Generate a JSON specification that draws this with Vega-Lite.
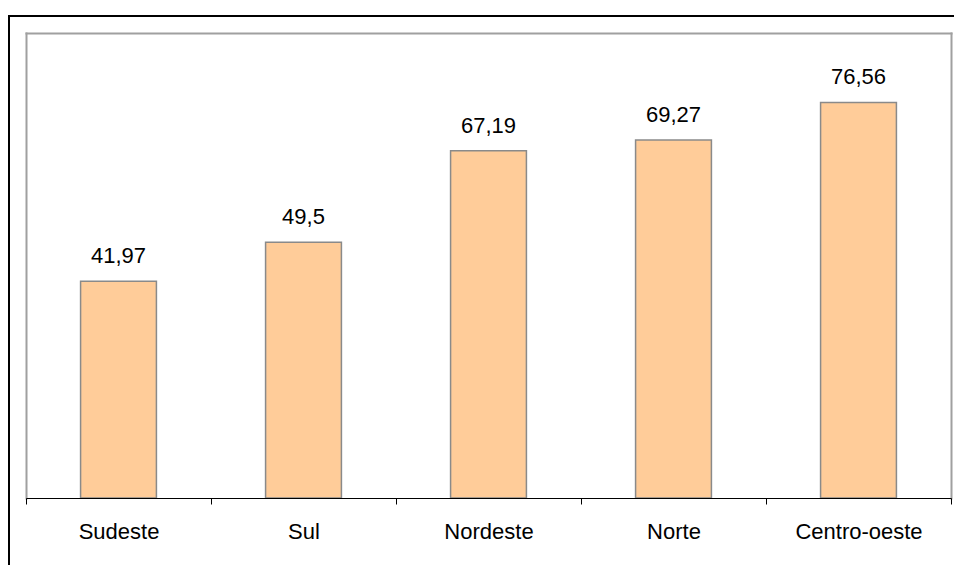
{
  "$schema": "https://vega.github.io/schema/vega-lite/v6.json",
  "width": 946,
  "height": 550,
  "autosize": {"type": "none"},
  "padding": {"left": 9, "top": 16, "right": 0, "bottom": 0},
  "background": "white",
  "config": {
    "view": {"stroke": "black", "strokeWidth": 2},
    "font": "Liberation Sans",
    "locale": {
      "number": {"decimal": ",", "thousands": ".", "grouping": [3], "currency": ["R$ ", ""]}
    }
  },
  "data": {
    "values": [
      {"regiao": "Sudeste", "valor": 41.97},
      {"regiao": "Sul", "valor": 49.5},
      {"regiao": "Nordeste", "valor": 67.19},
      {"regiao": "Norte", "valor": 69.27},
      {"regiao": "Centro-oeste", "valor": 76.56}
    ]
  },
  "layer": [
    {
      "mark": {
        "type": "bar",
        "fill": "#FFCC99",
        "stroke": "#8a8a8a",
        "strokeWidth": 1.5,
        "width": {"band": 0.41}
      },
      "encoding": {
        "x": {
          "field": "regiao",
          "type": "nominal",
          "sort": null,
          "scale": {"range": [17, 942], "paddingInner": 0, "paddingOuter": 0},
          "axis": {
            "orient": "bottom",
            "offset": -68,
            "zindex": 1,
            "title": null,
            "domainColor": "black",
            "domainWidth": 1,
            "tickColor": "black",
            "tickSize": 6,
            "tickWidth": 1,
            "tickBand": "extent",
            "labelAngle": 0,
            "labelFont": "Liberation Sans",
            "labelFontSize": 22,
            "labelColor": "black",
            "labelPadding": 17,
            "grid": false
          }
        },
        "y": {
          "field": "valor",
          "type": "quantitative",
          "scale": {"domain": [0, 90], "range": [482, 17], "nice": false, "zero": true},
          "axis": {
            "orient": "left",
            "offset": -17,
            "title": null,
            "labels": false,
            "ticks": false,
            "grid": false,
            "domainColor": "#a0a0a0",
            "domainWidth": 2,
            "domainCap": "square"
          }
        }
      }
    },
    {
      "mark": {
        "type": "text",
        "baseline": "alphabetic",
        "align": "center",
        "dy": -18,
        "fontSize": 22,
        "font": "Liberation Sans",
        "color": "black"
      },
      "encoding": {
        "x": {
          "field": "regiao",
          "type": "nominal",
          "sort": null,
          "scale": {"range": [17, 942], "paddingInner": 0, "paddingOuter": 0},
          "axis": {
            "orient": "top",
            "offset": -17,
            "title": null,
            "labels": false,
            "ticks": false,
            "grid": false,
            "domainColor": "#a0a0a0",
            "domainWidth": 2,
            "domainCap": "square"
          }
        },
        "y": {
          "field": "valor",
          "type": "quantitative",
          "scale": {"domain": [0, 90], "range": [482, 17], "nice": false, "zero": true},
          "axis": {
            "orient": "right",
            "offset": -4,
            "title": null,
            "labels": false,
            "ticks": false,
            "grid": false,
            "domainColor": "#a0a0a0",
            "domainWidth": 2,
            "domainCap": "square"
          }
        },
        "text": {"field": "valor", "type": "quantitative", "format": ".4~r"}
      }
    }
  ],
  "resolve": {"axis": {"x": "independent", "y": "independent"}}
}
